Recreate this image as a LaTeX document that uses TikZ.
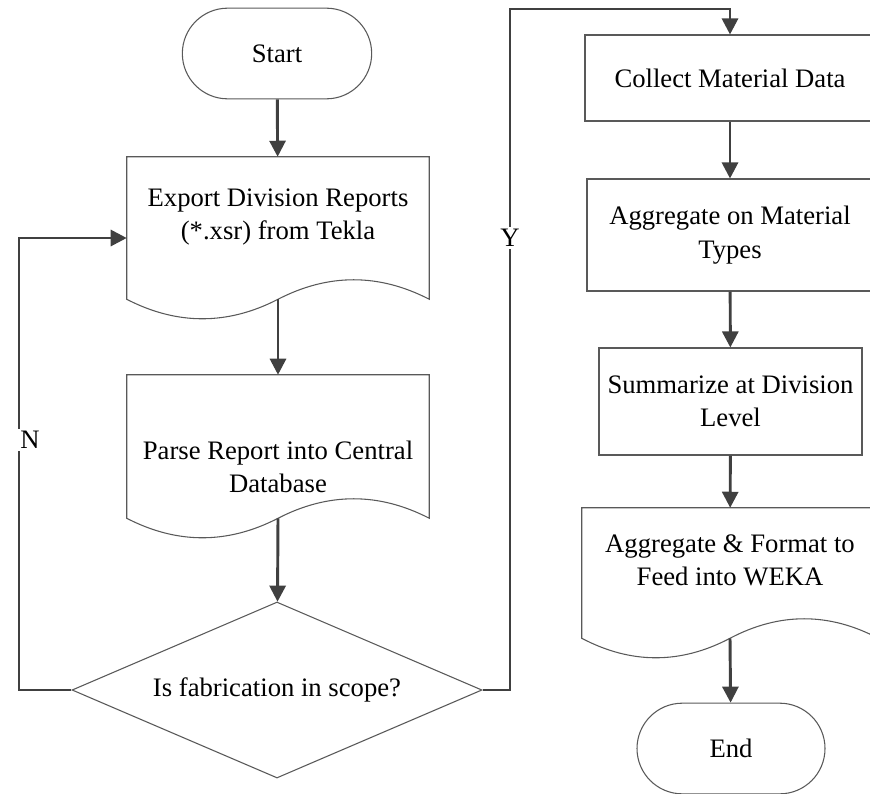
\documentclass[tikz,border=0pt]{standalone}
\usepackage{fontspec}
\setmainfont{Liberation Serif}
\usetikzlibrary{arrows.meta,positioning,calc,shapes.geometric}

\tikzset{
  boxline/.style={draw=black!65,line width=0.8pt},
  flow/.style={draw=black!75,line width=2.2pt,-{Triangle[width=12pt,length=12pt]}},
  procbox/.style={boxline,rectangle,align=center,inner sep=0pt},
  docbox/.style={rectangle,align=center,inner sep=0pt},
  termbox/.style={boxline,rectangle,rounded corners=34pt,minimum width=142pt,minimum height=68pt,inner sep=0pt},
  decbox/.style={boxline,diamond,aspect=2.33,minimum width=307.5pt,minimum height=132pt,inner sep=0pt},
  yn/.style={fill=white,inner sep=2pt}
}

% document outline: box from north down to south+#2, wavy bottom
\newcommand{\docwave}[2]{%
  \draw[boxline] ($(#1.south west)+(0,#2)$) -- (#1.north west) -- (#1.north east) -- ($(#1.south east)+(0,#2)$)
    .. controls ($(#1.south east)!0.333!(#1.south)+(0,#2-26)$) and ($(#1.south east)!0.667!(#1.south)+(0,#2-26)$) .. ($(#1.south)+(0,#2)$)
    .. controls ($(#1.south)!0.333!(#1.south west)+(0,#2+26)$) and ($(#1.south)!0.667!(#1.south west)+(0,#2+26)$) .. ($(#1.south west)+(0,#2)$) -- cycle;
  \coordinate (#1b) at ($(#1.south)+(0,#2)$);}

\begin{document}
\begin{tikzpicture}[x=0.75pt,y=-0.75pt,font=\fontsize{20}{25}\selectfont]
        \useasboundingbox (0,0) rectangle (870,793);
        \clip (0,0) rectangle (870,793);
        % left column
        \node[termbox] (start) at (277,53.5) {Start};
        \node[docbox,minimum width=226.5pt,minimum height=90pt] (export) at (278,217) {Export Division Reports\\(*.xsr) from Tekla};
        \docwave{export}{22}
        \node[docbox,minimum width=226.5pt,minimum height=138pt] (parse) at (278,467) {Parse Report into Central\\Database};
        \docwave{parse}{-41}
        \node[decbox] (scope) at (277,690) {Is fabrication in scope?};
        % right column
        \node[procbox,minimum width=217.5pt,minimum height=64.5pt] (collect) at (730,78) {Collect Material Data};
        \node[procbox,minimum width=214.5pt,minimum height=84pt] (types) at (730,235) {Aggregate on Material\\Types};
        \node[procbox,minimum width=197.25pt,minimum height=80.25pt] (summ) at (730.5,401.5) {Summarize at Division\\Level};
        \node[docbox,minimum width=222pt,minimum height=78pt] (weka) at (730,560) {Aggregate \& Format to\\Feed into WEKA};
        \docwave{weka}{26}
        \node[termbox,minimum width=141pt] (end) at (731,748.5) {End};
        % connectors
        \draw[flow] (start) -- (export);
        \draw[flow] (exportb) -- (parse);
        \draw[flow] (parseb) -- (scope);
        \draw[flow] (collect) -- (types);
        \draw[flow] (types) -- (summ);
        \draw[flow] (summ) -- (weka);
        \draw[flow] (wekab) -- (end);
        \coordinate (nturn) at (19,238);
        \coordinate (yturn) at (510,9);
        \draw[flow] (scope.west) -| (nturn) -- (nturn -| export.west);
        \draw[flow] (scope.east) -| (yturn) -| (collect.north);
        \node[yn] (nlab) at (30,440) {N};
        \node[yn] (ylab) at (510,238) {Y};
      \end{tikzpicture}
\end{document}
